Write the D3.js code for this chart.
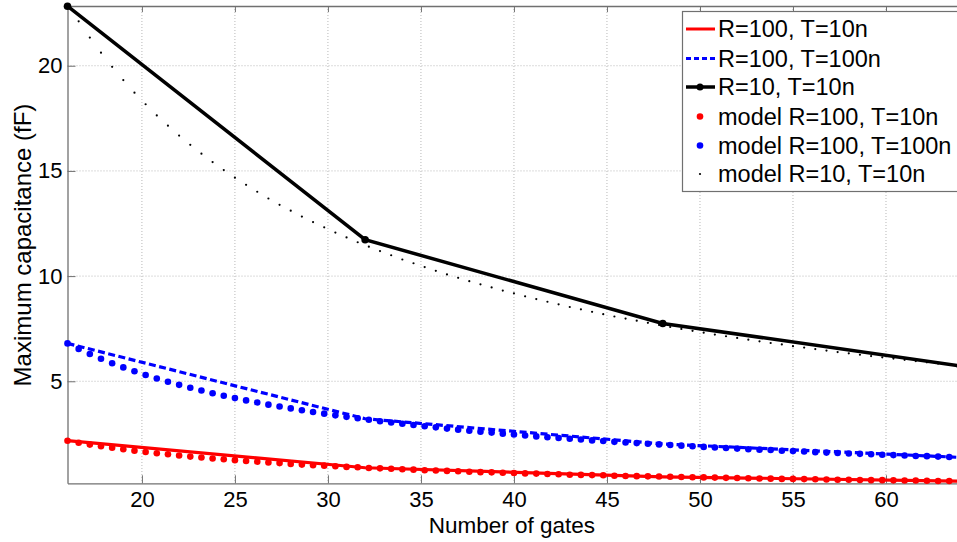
<!DOCTYPE html>
<html>
<head>
<meta charset="utf-8">
<script src="https://cdn.jsdelivr.net/npm/d3@7"></script>
<style>
  html, body { margin: 0; padding: 0; background: #fff; }
  svg { display: block; font-family: "Liberation Sans", Arial, sans-serif; }
</style>
</head>
<body>
<svg id="chart" width="957" height="542"></svg>
<script>
// ---- data ----
const gates = [16, 32, 48, 64];
const lineR100T10 = [2.18, 0.89, 0.46, 0.25];
const lineR100T100 = [6.80, 3.22, 2.02, 1.38];
const lineR10T10 = [22.83, 11.73, 7.75, 5.73];

const modelGates = [16,16.6,17.2,17.8,18.4,19,19.6,20.2,20.8,21.4,22,22.6,23.2,23.8,24.4,25,25.6,26.2,26.8,27.4,
  28,28.6,29.2,29.8,30.4,31,31.6,32.2,32.8,33.4,34,34.6,35.2,35.8,36.4,37,37.6,38.2,38.8,39.4,
  40,40.6,41.2,41.8,42.4,43,43.6,44.2,44.8,45.4,46,46.6,47.2,47.8,48.4,49,49.6,50.2,50.8,51.4,
  52,52.6,53.2,53.8,54.4,55,55.6,56.2,56.8,57.4,58,58.6,59.2,59.8,60.4,61,61.6,62.2,62.8,63.4,64];
const modelR100T10 = [2.17,2.08,1.99,1.91,1.84,1.77,1.70,1.64,1.58,1.53,
  1.47,1.42,1.38,1.33,1.29,1.25,1.21,1.18,1.14,1.11,
  1.07,1.04,1.01,0.99,0.96,0.93,0.91,0.88,0.86,0.84,
  0.82,0.80,0.77,0.76,0.74,0.72,0.70,0.68,0.67,0.65,
  0.64,0.62,0.61,0.59,0.58,0.56,0.55,0.54,0.53,0.51,
  0.50,0.49,0.48,0.47,0.46,0.45,0.44,0.43,0.42,0.41,
  0.40,0.39,0.38,0.37,0.36,0.36,0.35,0.34,0.33,0.32,
  0.32,0.31,0.30,0.30,0.29,0.28,0.28,0.27,0.26,0.26,0.25];
const modelR100T100 = [6.80,6.54,6.30,6.07,5.86,5.66,5.48,5.30,5.13,4.98,
  4.83,4.69,4.56,4.43,4.31,4.20,4.09,3.99,3.89,3.80,
  3.71,3.62,3.54,3.46,3.38,3.31,3.24,3.17,3.10,3.04,
  2.98,2.92,2.86,2.81,2.75,2.70,2.65,2.60,2.56,2.51,
  2.47,2.42,2.38,2.34,2.30,2.27,2.23,2.19,2.16,2.12,
  2.09,2.06,2.03,2.00,1.97,1.94,1.91,1.88,1.85,1.83,
  1.80,1.77,1.75,1.73,1.70,1.68,1.66,1.63,1.61,1.59,
  1.57,1.55,1.53,1.51,1.49,1.47,1.45,1.44,1.42,1.40,1.38];
const modelR10T10 = [22.83,22.11,21.34,20.62,19.95,19.32,18.72,18.17,17.64,17.15,
  16.68,16.24,15.82,15.42,15.04,14.68,14.34,14.01,13.69,13.39,
  13.11,12.83,12.57,12.32,12.07,11.84,11.61,11.40,11.19,10.99,
  10.79,10.61,10.43,10.25,10.08,9.92,9.76,9.61,9.46,9.31,
  9.18,9.04,8.91,8.78,8.66,8.53,8.42,8.30,8.19,8.08,
  7.98,7.88,7.78,7.68,7.58,7.49,7.40,7.31,7.22,7.14,
  7.06,6.98,6.90,6.82,6.75,6.67,6.60,6.53,6.46,6.39,
  6.33,6.26,6.20,6.14,6.08,6.02,5.96,5.90,5.84,5.79,5.73];

const xTicks = [20, 25, 30, 35, 40, 45, 50, 55, 60];
const yTicks = [5, 10, 15, 20];
const xDomain = [16, 64];
const yDomain = [0.15, 22.84];
const legendLabels = ["R=100, T=10n", "R=100, T=100n", "R=10, T=10n",
  "model R=100, T=10n", "model R=100, T=100n", "model R=10, T=10n"];

// ---- layout ----
const svg = d3.select("#chart");
const pLeft = 67.5, pRight = 960.4, pTop = 6, pBottom = 483.3;
const x = d3.scaleLinear().domain(xDomain).range([pLeft, pRight]);
const y = d3.scaleLinear().domain(yDomain).range([pBottom, pTop]);

const axisColor = "#707070";
const gridColor = "#b8b8b8";
const fontFam = "'Liberation Sans', Arial, sans-serif";

// grid
const grid = svg.append("g");
grid.selectAll(".gx").data(xTicks).enter().append("line")
  .attr("x1", d => x(d)).attr("x2", d => x(d))
  .attr("y1", pTop).attr("y2", pBottom)
  .attr("stroke", gridColor).attr("stroke-width", 1).attr("stroke-dasharray", "1,2");
grid.selectAll(".gy").data(yTicks).enter().append("line")
  .attr("x1", pLeft).attr("x2", pRight)
  .attr("y1", d => y(d)).attr("y2", d => y(d))
  .attr("stroke", gridColor).attr("stroke-width", 1).attr("stroke-dasharray", "1,2");

// axes
const xAxis = d3.axisBottom(x).tickValues(xTicks).tickSizeInner(-8).tickSizeOuter(0).tickPadding(8);
const gx = svg.append("g").attr("transform", `translate(0,${pBottom})`).call(xAxis);
gx.selectAll("text").attr("font-size", 22).attr("fill", "#000").attr("font-family", fontFam);
gx.selectAll("line").attr("stroke", axisColor);
gx.select(".domain").attr("stroke", axisColor).attr("stroke-width", 1.3);

const xTop = d3.axisTop(x).tickValues(xTicks).tickSizeInner(-6).tickSizeOuter(0).tickFormat("");
const gxt = svg.append("g").attr("transform", `translate(0,${pTop})`).call(xTop);
gxt.selectAll("line").attr("stroke", axisColor);
gxt.select(".domain").attr("stroke", axisColor).attr("stroke-width", 1.3);

const yAxis = d3.axisLeft(y).tickValues(yTicks).tickSizeInner(-8).tickSizeOuter(0).tickPadding(5);
const gy = svg.append("g").attr("transform", `translate(${pLeft},0)`).call(yAxis);
gy.selectAll("text").attr("font-size", 22).attr("fill", "#000").attr("font-family", fontFam);
gy.selectAll("line").attr("stroke", axisColor);
gy.select(".domain").attr("stroke", axisColor).attr("stroke-width", 1.3);

// axis labels
svg.append("text").attr("x", (pLeft + pRight) / 2 - 2).attr("y", 533)
  .attr("text-anchor", "middle").attr("font-size", 22.5).text("Number of gates");
svg.append("text").attr("transform", `translate(31,245) rotate(-90)`)
  .attr("text-anchor", "middle").attr("font-size", 24).text("Maximum capacitance (fF)");

// lines
const lineGen = d3.line().x(d => x(d[0])).y(d => y(d[1]));
const pairs = (xs, ys) => xs.map((v, i) => [v, ys[i]]);

svg.append("path").datum(pairs(gates, lineR100T10)).attr("d", lineGen)
  .attr("fill", "none").attr("stroke", "#ff0000").attr("stroke-width", 3.2);
svg.append("path").datum(pairs(gates, lineR100T100)).attr("d", lineGen)
  .attr("fill", "none").attr("stroke", "#0000ff").attr("stroke-width", 3.2)
  .attr("stroke-dasharray", "7,3.5");
svg.append("path").datum(pairs(gates, lineR10T10)).attr("d", lineGen)
  .attr("fill", "none").attr("stroke", "#000").attr("stroke-width", 3.5);
svg.append("g").selectAll("circle").data(pairs(gates, lineR10T10)).enter().append("circle")
  .attr("cx", d => x(d[0])).attr("cy", d => y(d[1])).attr("r", 3.8).attr("fill", "#000");

// model dots
svg.append("g").selectAll("circle").data(pairs(modelGates, modelR100T10)).enter().append("circle")
  .attr("cx", d => x(d[0])).attr("cy", d => y(d[1])).attr("r", 3.3).attr("fill", "#ff0000");
svg.append("g").selectAll("circle").data(pairs(modelGates, modelR100T100)).enter().append("circle")
  .attr("cx", d => x(d[0])).attr("cy", d => y(d[1])).attr("r", 3.3).attr("fill", "#0000ff");
svg.append("g").selectAll("circle").data(pairs(modelGates, modelR10T10)).enter().append("circle")
  .attr("cx", d => x(d[0])).attr("cy", d => y(d[1])).attr("r", 1.1).attr("fill", "#000");

// legend
const lg = svg.append("g");
lg.append("rect").attr("x", 682.5).attr("y", 11.5).attr("width", 290).attr("height", 180)
  .attr("fill", "#fff").attr("stroke", axisColor).attr("stroke-width", 1.2);
const rowY = [29, 58.5, 87, 116.5, 145.5, 174];
const sx0 = 686, sx1 = 715, sxm = 700, tx = 718;
lg.append("line").attr("x1", sx0).attr("x2", sx1).attr("y1", rowY[0]).attr("y2", rowY[0])
  .attr("stroke", "#ff0000").attr("stroke-width", 3);
lg.append("line").attr("x1", sx0).attr("x2", sx1).attr("y1", rowY[1]).attr("y2", rowY[1])
  .attr("stroke", "#0000ff").attr("stroke-width", 3).attr("stroke-dasharray", "5,3");
lg.append("line").attr("x1", sx0).attr("x2", sx1).attr("y1", rowY[2]).attr("y2", rowY[2])
  .attr("stroke", "#000").attr("stroke-width", 3.5);
lg.append("circle").attr("cx", sxm).attr("cy", rowY[2]).attr("r", 3.5).attr("fill", "#000");
lg.append("circle").attr("cx", sxm).attr("cy", rowY[3]).attr("r", 3.3).attr("fill", "#ff0000");
lg.append("circle").attr("cx", sxm).attr("cy", rowY[4]).attr("r", 3.3).attr("fill", "#0000ff");
lg.append("circle").attr("cx", sxm).attr("cy", rowY[5]).attr("r", 1.1).attr("fill", "#000");
lg.selectAll("text.lt").data(legendLabels).enter().append("text")
  .attr("x", tx).attr("y", (d, i) => rowY[i]).attr("dy", "0.35em")
  .attr("font-size", 23.5).attr("fill", "#000").text(d => d);
</script>
</body>
</html>
